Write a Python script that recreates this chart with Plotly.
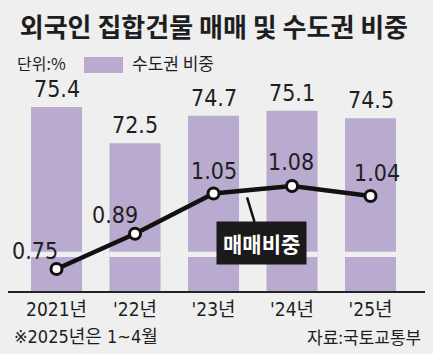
import plotly.graph_objects as go

# ---- data ----
years = ["2021년", "'22년", "'23년", "'24년", "'25년"]
capital_share = [75.4, 72.5, 74.7, 75.1, 74.5]      # 수도권 비중 (%)
trade_share = [0.75, 0.89, 1.05, 1.08, 1.04]         # 매매비중 (%)

# ---- style ----
BG = "#efefef"
BAR = "#b9aad0"
INK = "#1e1e1e"
NUM_FONT = "Liberation Sans Narrow, DejaVu Sans Condensed, Noto Sans CJK KR, sans-serif"
KR_FONT = "Noto Sans CJK KR, sans-serif"
LABEL_SHIFT = [(-22, -18), (-20, -19), (0, -23), (-1, -24), (6, -23)]
BAR_RANGE = [60.6, 77.58]
LINE_RANGE = [0.6625, 1.5015]
BREAK_BASE, BREAK_H = 63.34, 0.42

xs = list(range(len(years)))

fig = go.Figure()
fig.add_trace(go.Bar(x=xs, y=capital_share, marker=dict(color=BAR, line=dict(width=0)),
                     width=0.65, hoverinfo="skip"))
# axis-break gap drawn through the bars
fig.add_trace(go.Bar(x=xs, y=[BREAK_H] * len(xs), base=[BREAK_BASE] * len(xs),
                     marker=dict(color=BG, line=dict(width=0)), width=0.65, hoverinfo="skip"))
fig.add_trace(go.Scatter(x=xs, y=trade_share, yaxis="y2", mode="lines+markers",
                         line=dict(color="#111111", width=4.5),
                         marker=dict(size=11, color="white", line=dict(color="#111111", width=3)),
                         hoverinfo="skip"))

annotations = []
for i, v in enumerate(capital_share):
    annotations.append(dict(x=i, y=v, xref="x", yref="y", text=f"{v:.1f}", showarrow=False,
                            yanchor="bottom", yshift=3,
                            font=dict(family=NUM_FONT, size=23, color=INK)))
for i, v in enumerate(trade_share):
    dx, dy = LABEL_SHIFT[i]
    annotations.append(dict(x=i, y=v, xref="x", yref="y2", text=f"{v:.2f}", showarrow=False,
                            xshift=dx, yshift=-dy, yanchor="middle",
                            font=dict(family=NUM_FONT, size=23, color=INK)))

# callout
annotations.append(dict(x=2.427, y=1.035, xref="x", yref="y2", text="<b>매매비중</b>",
                        showarrow=True, arrowhead=0, arrowwidth=2.5, arrowcolor="#111111",
                        ax=14, ay=46, bgcolor="#1a1a1a", borderpad=6,
                        font=dict(family=KR_FONT, size=21, color="white")))

# header / footer texts
annotations += [
    dict(xref="paper", yref="paper", x=0.0168, y=1.0806, text="단위:%", showarrow=False,
         xanchor="left", yanchor="middle", font=dict(family=KR_FONT, size=16, color=INK)),
    dict(xref="paper", yref="paper", x=0.2926, y=1.0806, text="수도권 비중", showarrow=False,
         xanchor="left", yanchor="middle", font=dict(family=KR_FONT, size=17, color=INK)),
    dict(xref="paper", yref="paper", x=0.0096, y=-0.2133, text="※2025년은 1~4월", showarrow=False,
         xanchor="left", yanchor="middle", font=dict(family=NUM_FONT, size=18, color=INK)),
    dict(xref="paper", yref="paper", x=0.9952, y=-0.218, text="자료:국토교통부", showarrow=False,
         xanchor="right", yanchor="middle", font=dict(family=KR_FONT, size=17, color=INK)),
]

shapes = [dict(type="rect", xref="paper", yref="paper", x0=0.1823, x1=0.2758, y0=1.0332, y1=1.109,
               fillcolor=BAR, line=dict(width=0))]

fig.update_layout(
    width=433, height=354,
    margin=dict(l=8, r=8, t=80, b=63),
    paper_bgcolor=BG, plot_bgcolor=BG,
    showlegend=False, barmode="overlay",
    title=dict(text="외국인 집합건물 매매 및 수도권 비중", xref="container", x=0.494, xanchor="center",
               y=0.921, yref="container", yanchor="middle",
               font=dict(family=KR_FONT, size=26, color=INK, weight=700)),
    xaxis=dict(range=[-0.618, 4.694], tickmode="array", tickvals=xs, ticktext=years,
               showline=True, linecolor="#222222", linewidth=1.5, showgrid=False, zeroline=False,
               ticks="", tickfont=dict(family=NUM_FONT, size=19, color=INK), fixedrange=True),
    yaxis=dict(range=BAR_RANGE, visible=False, showgrid=False, zeroline=False),
    yaxis2=dict(range=LINE_RANGE, overlaying="y", visible=False, showgrid=False, zeroline=False),
    annotations=annotations, shapes=shapes,
)

fig.write_html("out.html")
